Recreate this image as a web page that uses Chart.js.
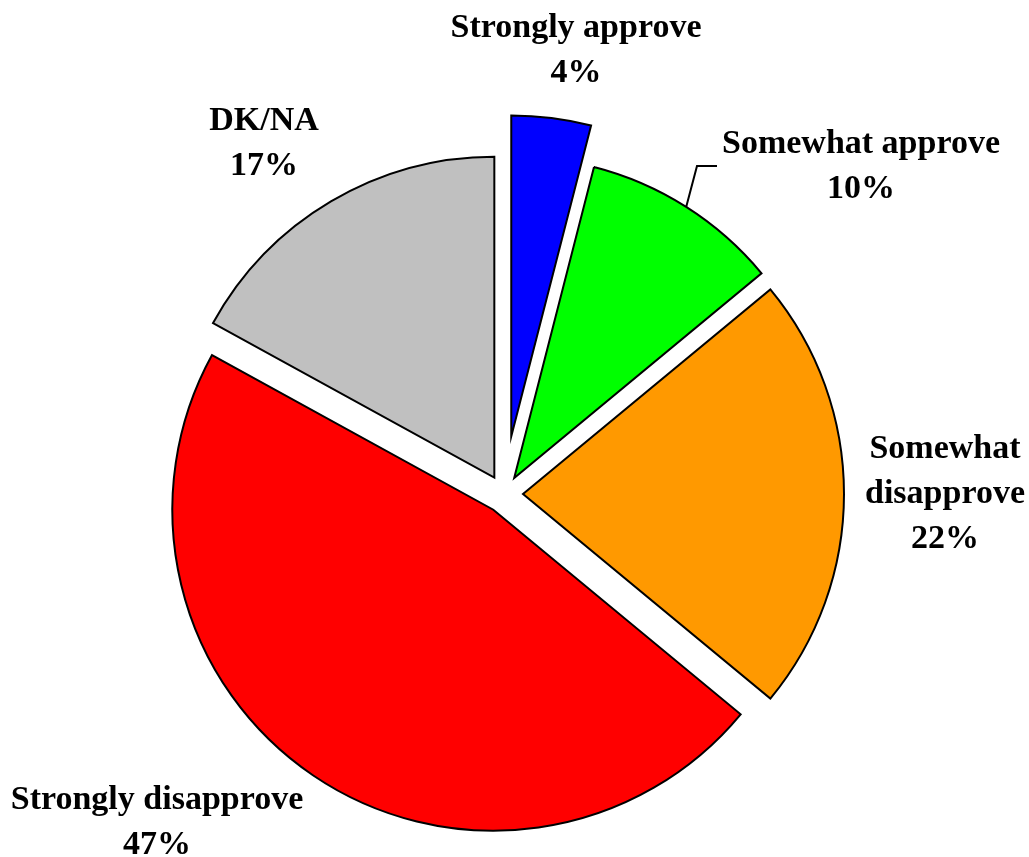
<!DOCTYPE html>
<html>
<head>
<meta charset="utf-8">
<script src="https://cdn.jsdelivr.net/npm/chart.js@4/dist/chart.umd.min.js"></script>
<style>
    body { margin: 0; background: #fff; }
    #pie { display: block; }
</style>
</head>
<body>
<canvas id="pie" width="1029" height="857"></canvas>
<script>
// Datos del gráfico
const categories = ['Strongly approve', 'Somewhat approve', 'Somewhat disapprove', 'Strongly disapprove', 'DK/NA'];
const shares = [4, 10, 22, 47, 17];
const labelLines = [['Strongly approve'], ['Somewhat approve'], ['Somewhat', 'disapprove'], ['Strongly disapprove'], ['DK/NA']];

// Estilo
const sliceColors = ['#0000ff', '#00ff00', '#ff9900', '#ff0000', '#c0c0c0'];
const explodePx = [58, 19, 19, 19, 19];          // separación de cada porción
const labelAnchors = [[576, 37], [861, 153], [945, 458], [157, 809], [264, 130]]; // centro x, línea base
const LINE_H = 45;
const FONT = 'bold 34px "Liberation Serif", "Times New Roman", serif';

// Separa las porciones moviendo el centro de cada arco (sin cambiar el radio)
const explodePlugin = {
    id: 'explode',
    afterDatasetUpdate(chart, args) {
        args.meta.data.forEach((arc, i) => {
            const mid = (arc.startAngle + arc.endAngle) / 2;
            arc.x += Math.cos(mid) * explodePx[i];
            arc.y += Math.sin(mid) * explodePx[i];
        });
    }
};

// Etiquetas y línea guía
const labelPlugin = {
    id: 'pieLabels',
    afterDraw(chart) {
        const ctx = chart.ctx;
        const arcs = chart.getDatasetMeta(0).data;
        ctx.save();
        ctx.font = FONT;
        ctx.fillStyle = '#000';
        ctx.textAlign = 'center';
        ctx.textBaseline = 'alphabetic';
        categories.forEach((cat, i) => {
            const [x, y] = labelAnchors[i];
            const lines = labelLines[i].concat([shares[i] + '%']);
            lines.forEach((t, k) => ctx.fillText(t, x, y + k * LINE_H));
        });

        // línea guía para "Somewhat approve"
        const arc = arcs[1];
        const mid = (arc.startAngle + arc.endAngle) / 2;
        const sx = arc.x + Math.cos(mid) * arc.outerRadius;
        const sy = arc.y + Math.sin(mid) * arc.outerRadius;
        const w = ctx.measureText(labelLines[1][0]).width;
        const endX = labelAnchors[1][0] - w / 2 - 5;
        const endY = labelAnchors[1][1] + 13;
        ctx.strokeStyle = '#000';
        ctx.lineWidth = 2;
        ctx.beginPath();
        ctx.moveTo(sx, sy);
        ctx.lineTo(endX - 20, endY);
        ctx.lineTo(endX, endY);
        ctx.stroke();
        ctx.restore();
    }
};

new Chart(document.getElementById('pie'), {
    type: 'pie',
    data: {
        labels: categories,
        datasets: [{
            data: shares,
            backgroundColor: sliceColors,
            borderColor: '#000',
            borderWidth: 2,
            borderJoinStyle: 'miter'
        }]
    },
    options: {
        responsive: false,
        animation: false,
        radius: 321,
        layout: { padding: { top: 131, left: 0, right: 21, bottom: 0 } },
        plugins: {
            legend: { display: false },
            tooltip: { enabled: false }
        }
    },
    plugins: [explodePlugin, labelPlugin]
});
</script>
</body>
</html>
